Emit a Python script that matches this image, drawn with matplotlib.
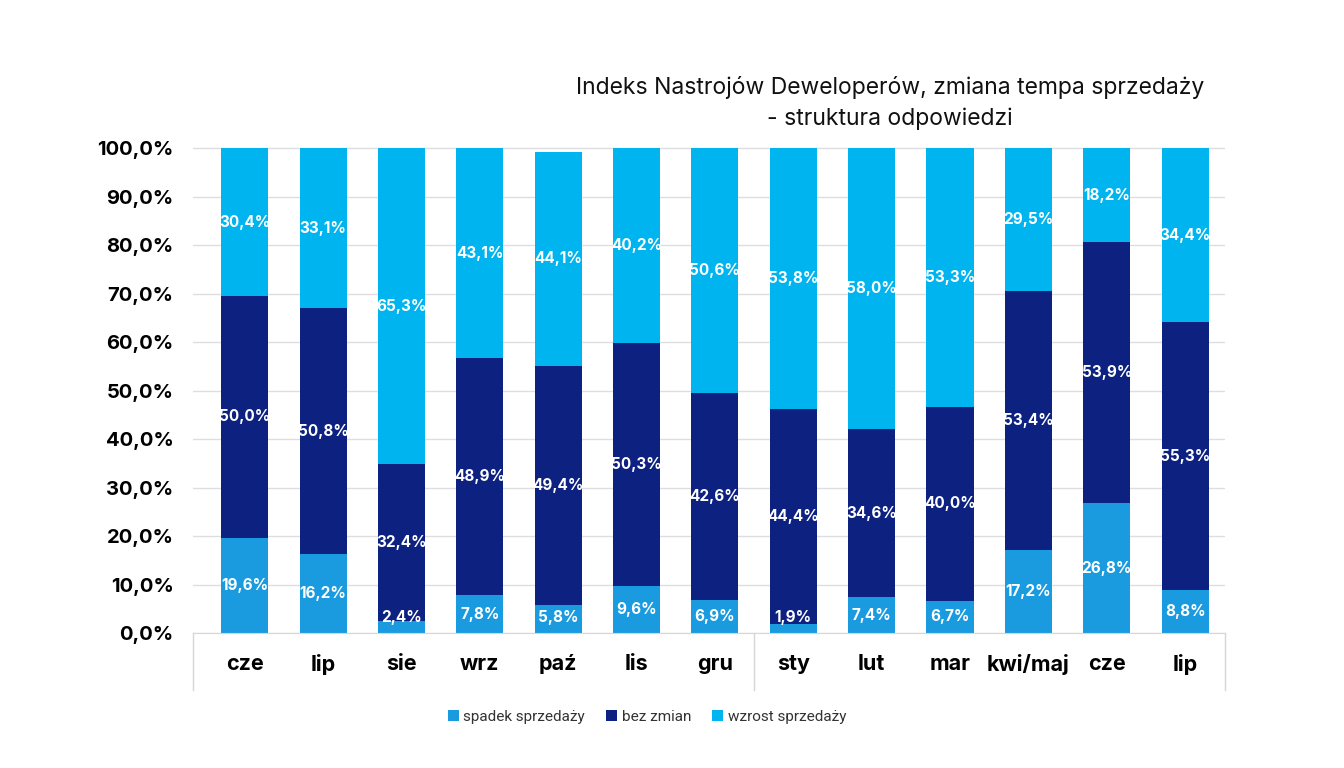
import numpy as np
import matplotlib.pyplot as plt
from matplotlib.transforms import blended_transform_factory

months = ["cze", "lip", "sie", "wrz", "paź", "lis", "gru",
          "sty", "lut", "mar", "kwi/maj", "cze", "lip"]
spadek = [19.6, 16.2, 2.4, 7.8, 5.8, 9.6, 6.9, 1.9, 7.4, 6.7, 17.2, 26.8, 8.8]
bez_zmian = [50.0, 50.8, 32.4, 48.9, 49.4, 50.3, 42.6, 44.4, 34.6, 40.0, 53.4, 53.9, 55.3]
# printed labels of the top segment
wzrost = [30.4, 33.1, 65.3, 43.1, 44.1, 40.2, 50.6, 53.8, 58.0, 53.3, 29.5, 18.2, 34.4]
# drawn heights of the top segment (bars reach 100% where the picture shows it)
wzrost_height = [30.4, 33.1, 65.3, 43.3, 44.1, 40.2, 50.6, 53.8, 58.0, 53.3, 29.5, 19.3, 35.9]
series_names = ["spadek sprzedaży", "bez zmian", "wzrost sprzedaży"]
colors = ["#1A9BE0", "#0C2180", "#00B5EF"]

plt.rcParams["font.family"] = ["Inter", "DejaVu Sans"]

fig = plt.figure(figsize=(13.44, 7.68), dpi=100)
ax = fig.add_axes([0.1436, 0.1758, 0.9115 - 0.1436, 0.6328])

x = np.arange(len(months))
width = 0.6
bottom = np.zeros(len(months))
segments = [(spadek, spadek), (bez_zmian, bez_zmian), (wzrost_height, wzrost)]
for (heights, labels), name, col in zip(segments, series_names, colors):
    heights = np.array(heights)
    ax.bar(x, heights, width, bottom=bottom, color=col, label=name, zorder=2)
    for xi, b, h, v in zip(x, bottom, heights, labels):
        ypos = b + h / 2
        if b == 0:
            ypos = max(ypos, 3.2)
        ax.text(xi, ypos, f"{v:.1f}%".replace(".", ","), ha="center", va="center",
                color="white", fontsize=11, fontweight="bold", zorder=3)
    bottom += heights

ax.set_xlim(-0.66, 12.51)
ax.set_ylim(0, 100.3)
ax.set_yticks(np.arange(0, 101, 10))
ax.set_yticklabels([f"{t:.1f}%".replace(".", ",") for t in np.arange(0, 101, 10)],
                   fontsize=14.5, fontweight="bold")
ax.set_xticks(x)
ax.set_xticklabels(months, fontsize=15.5, fontweight="bold")
ax.tick_params(axis="both", length=0)
ax.tick_params(axis="x", pad=15)
ax.tick_params(axis="y", pad=14)
ax.grid(axis="y", color="#DEDEE2", linewidth=1, zorder=0)
for s in ["top", "right", "left"]:
    ax.spines[s].set_visible(False)
ax.spines["bottom"].set_color("#D6D6DA")

# separators under the axis
trans = blended_transform_factory(ax.transData, ax.transAxes)
for xs in [-0.66, 6.5, 12.51]:
    ax.plot([xs, xs], [0, -0.117], transform=trans, color="#D6D6DA",
            linewidth=1, clip_on=False)

fig.text(0.662, 0.866, "Indeks Nastrojów Deweloperów, zmiana tempa sprzedaży\n- struktura odpowiedzi",
         ha="center", va="center", fontsize=16.5, color="#111111", linespacing=1.5)

leg = ax.legend(loc="upper center", bbox_to_anchor=(0.44, -0.13), ncol=3, frameon=False,
                handlelength=0.7, handleheight=0.7, handletextpad=0.3, columnspacing=1.4,
                prop={"family": "Roboto", "size": 11})
for t in leg.get_texts():
    t.set_color("#333333")

fig.savefig("out.png", dpi=100)
